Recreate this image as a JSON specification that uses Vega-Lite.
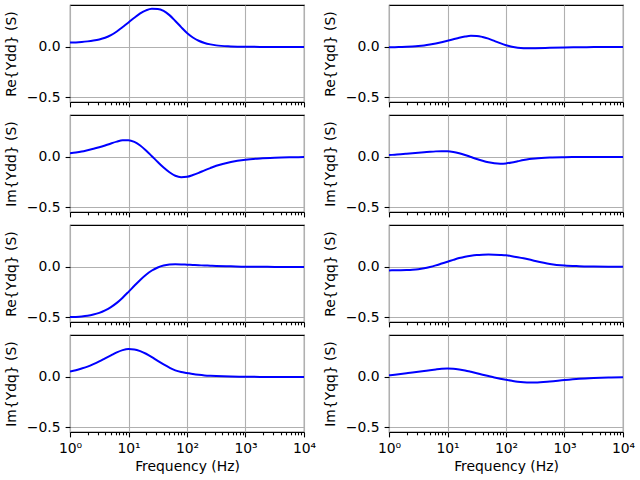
{
  "$schema": "https://vega.github.io/schema/vega-lite/v6.json",
  "padding": {"left": 3, "top": 4, "right": 0, "bottom": 0},
  "background": "white",
  "config": {
    "font": "DejaVu Sans",
    "view": {"stroke": "#000000", "strokeWidth": 1.1},
    "axis": {"domain": false, "gridColor": "#b0b0b0", "gridWidth": 1.1, "tickColor": "#000000", "tickWidth": 1.1, "tickSize": 4.9, "labelFontSize": 13.9, "labelColor": "#000000", "labelFont": "DejaVu Sans", "titleFont": "DejaVu Sans", "titleFontSize": 13.9, "titleFontWeight": "normal", "titleColor": "#000000", "labelPadding": 5, "labelFlush": false, "labelOverlap": false},
    "axisY": {"titlePadding": 8},
    "axisX": {"titlePadding": 4}
  },
  "data": {"values": [
    {"s":"ReYdd","f":1,"v":0.044},{"s":"ReYdd","f":1.259,"v":0.046},{"s":"ReYdd","f":1.585,"v":0.050},{"s":"ReYdd","f":1.995,"v":0.056},{"s":"ReYdd","f":2.512,"v":0.064},{"s":"ReYdd","f":3.162,"v":0.075},{"s":"ReYdd","f":3.981,"v":0.092},{"s":"ReYdd","f":5.012,"v":0.118},{"s":"ReYdd","f":6.31,"v":0.155},{"s":"ReYdd","f":7.943,"v":0.200},{"s":"ReYdd","f":10,"v":0.245},{"s":"ReYdd","f":12.59,"v":0.292},{"s":"ReYdd","f":15.85,"v":0.335},{"s":"ReYdd","f":19.95,"v":0.366},{"s":"ReYdd","f":25.12,"v":0.382},{"s":"ReYdd","f":31.62,"v":0.380},{"s":"ReYdd","f":39.81,"v":0.360},{"s":"ReYdd","f":50.12,"v":0.318},{"s":"ReYdd","f":63.1,"v":0.260},{"s":"ReYdd","f":79.43,"v":0.198},{"s":"ReYdd","f":100,"v":0.140},{"s":"ReYdd","f":125.9,"v":0.095},{"s":"ReYdd","f":158.5,"v":0.062},{"s":"ReYdd","f":199.5,"v":0.040},{"s":"ReYdd","f":251.2,"v":0.026},{"s":"ReYdd","f":316.2,"v":0.016},{"s":"ReYdd","f":562.3,"v":0.006},{"s":"ReYdd","f":1000,"v":0.002},{"s":"ReYdd","f":1778,"v":0.001},{"s":"ReYdd","f":3162,"v":0.0},{"s":"ReYdd","f":5623,"v":0.0},{"s":"ReYdd","f":10000,"v":0.0},
    {"s":"ImYdd","f":1,"v":0.037},{"s":"ImYdd","f":1.259,"v":0.045},{"s":"ImYdd","f":1.585,"v":0.055},{"s":"ImYdd","f":1.995,"v":0.068},{"s":"ImYdd","f":2.512,"v":0.082},{"s":"ImYdd","f":3.162,"v":0.097},{"s":"ImYdd","f":3.981,"v":0.115},{"s":"ImYdd","f":5.012,"v":0.135},{"s":"ImYdd","f":6.31,"v":0.153},{"s":"ImYdd","f":7.943,"v":0.166},{"s":"ImYdd","f":10,"v":0.167},{"s":"ImYdd","f":12.59,"v":0.150},{"s":"ImYdd","f":15.85,"v":0.115},{"s":"ImYdd","f":19.95,"v":0.065},{"s":"ImYdd","f":25.12,"v":0.008},{"s":"ImYdd","f":31.62,"v":-0.050},{"s":"ImYdd","f":39.81,"v":-0.105},{"s":"ImYdd","f":50.12,"v":-0.152},{"s":"ImYdd","f":63.1,"v":-0.187},{"s":"ImYdd","f":79.43,"v":-0.201},{"s":"ImYdd","f":100,"v":-0.197},{"s":"ImYdd","f":125.9,"v":-0.180},{"s":"ImYdd","f":158.5,"v":-0.158},{"s":"ImYdd","f":199.5,"v":-0.133},{"s":"ImYdd","f":251.2,"v":-0.110},{"s":"ImYdd","f":316.2,"v":-0.088},{"s":"ImYdd","f":562.3,"v":-0.050},{"s":"ImYdd","f":1000,"v":-0.027},{"s":"ImYdd","f":1778,"v":-0.014},{"s":"ImYdd","f":3162,"v":-0.007},{"s":"ImYdd","f":5623,"v":-0.003},{"s":"ImYdd","f":10000,"v":-0.001},
    {"s":"ReYdq","f":1,"v":-0.500},{"s":"ReYdq","f":1.259,"v":-0.498},{"s":"ReYdq","f":1.585,"v":-0.494},{"s":"ReYdq","f":1.995,"v":-0.487},{"s":"ReYdq","f":2.512,"v":-0.475},{"s":"ReYdq","f":3.162,"v":-0.458},{"s":"ReYdq","f":3.981,"v":-0.433},{"s":"ReYdq","f":5.012,"v":-0.400},{"s":"ReYdq","f":6.31,"v":-0.358},{"s":"ReYdq","f":7.943,"v":-0.306},{"s":"ReYdq","f":10,"v":-0.248},{"s":"ReYdq","f":12.59,"v":-0.188},{"s":"ReYdq","f":15.85,"v":-0.130},{"s":"ReYdq","f":19.95,"v":-0.078},{"s":"ReYdq","f":25.12,"v":-0.035},{"s":"ReYdq","f":31.62,"v":-0.005},{"s":"ReYdq","f":39.81,"v":0.014},{"s":"ReYdq","f":50.12,"v":0.024},{"s":"ReYdq","f":63.1,"v":0.027},{"s":"ReYdq","f":79.43,"v":0.026},{"s":"ReYdq","f":100,"v":0.023},{"s":"ReYdq","f":125.9,"v":0.020},{"s":"ReYdq","f":158.5,"v":0.017},{"s":"ReYdq","f":199.5,"v":0.015},{"s":"ReYdq","f":251.2,"v":0.013},{"s":"ReYdq","f":316.2,"v":0.011},{"s":"ReYdq","f":562.3,"v":0.007},{"s":"ReYdq","f":1000,"v":0.003},{"s":"ReYdq","f":1778,"v":0.002},{"s":"ReYdq","f":3162,"v":0.001},{"s":"ReYdq","f":5623,"v":0.0},{"s":"ReYdq","f":10000,"v":0.0},
    {"s":"ImYdq","f":1,"v":0.054},{"s":"ImYdq","f":1.259,"v":0.068},{"s":"ImYdq","f":1.585,"v":0.085},{"s":"ImYdq","f":1.995,"v":0.104},{"s":"ImYdq","f":2.512,"v":0.128},{"s":"ImYdq","f":3.162,"v":0.155},{"s":"ImYdq","f":3.981,"v":0.185},{"s":"ImYdq","f":5.012,"v":0.215},{"s":"ImYdq","f":6.31,"v":0.245},{"s":"ImYdq","f":7.943,"v":0.268},{"s":"ImYdq","f":10,"v":0.279},{"s":"ImYdq","f":12.59,"v":0.275},{"s":"ImYdq","f":15.85,"v":0.258},{"s":"ImYdq","f":19.95,"v":0.232},{"s":"ImYdq","f":25.12,"v":0.198},{"s":"ImYdq","f":31.62,"v":0.160},{"s":"ImYdq","f":39.81,"v":0.125},{"s":"ImYdq","f":50.12,"v":0.093},{"s":"ImYdq","f":63.1,"v":0.066},{"s":"ImYdq","f":79.43,"v":0.050},{"s":"ImYdq","f":100,"v":0.040},{"s":"ImYdq","f":125.9,"v":0.030},{"s":"ImYdq","f":158.5,"v":0.022},{"s":"ImYdq","f":199.5,"v":0.016},{"s":"ImYdq","f":251.2,"v":0.012},{"s":"ImYdq","f":316.2,"v":0.009},{"s":"ImYdq","f":562.3,"v":0.004},{"s":"ImYdq","f":1000,"v":0.002},{"s":"ImYdq","f":1778,"v":0.001},{"s":"ImYdq","f":3162,"v":0.0},{"s":"ImYdq","f":5623,"v":0.0},{"s":"ImYdq","f":10000,"v":0.0},
    {"s":"ReYqd","f":1,"v":-0.003},{"s":"ReYqd","f":1.259,"v":-0.002},{"s":"ReYqd","f":1.585,"v":0.0},{"s":"ReYqd","f":1.995,"v":0.002},{"s":"ReYqd","f":2.512,"v":0.005},{"s":"ReYqd","f":3.162,"v":0.009},{"s":"ReYqd","f":3.981,"v":0.015},{"s":"ReYqd","f":5.012,"v":0.024},{"s":"ReYqd","f":6.31,"v":0.035},{"s":"ReYqd","f":7.943,"v":0.048},{"s":"ReYqd","f":10,"v":0.062},{"s":"ReYqd","f":12.59,"v":0.077},{"s":"ReYqd","f":15.85,"v":0.092},{"s":"ReYqd","f":19.95,"v":0.104},{"s":"ReYqd","f":25.12,"v":0.111},{"s":"ReYqd","f":31.62,"v":0.110},{"s":"ReYqd","f":39.81,"v":0.100},{"s":"ReYqd","f":50.12,"v":0.083},{"s":"ReYqd","f":63.1,"v":0.061},{"s":"ReYqd","f":79.43,"v":0.038},{"s":"ReYqd","f":100,"v":0.018},{"s":"ReYqd","f":125.9,"v":0.003},{"s":"ReYqd","f":158.5,"v":-0.007},{"s":"ReYqd","f":199.5,"v":-0.012},{"s":"ReYqd","f":251.2,"v":-0.013},{"s":"ReYqd","f":316.2,"v":-0.012},{"s":"ReYqd","f":562.3,"v":-0.008},{"s":"ReYqd","f":1000,"v":-0.004},{"s":"ReYqd","f":1778,"v":-0.002},{"s":"ReYqd","f":3162,"v":-0.001},{"s":"ReYqd","f":5623,"v":0.0},{"s":"ReYqd","f":10000,"v":0.0},
    {"s":"ImYqd","f":1,"v":0.019},{"s":"ImYqd","f":1.259,"v":0.023},{"s":"ImYqd","f":1.585,"v":0.027},{"s":"ImYqd","f":1.995,"v":0.032},{"s":"ImYqd","f":2.512,"v":0.037},{"s":"ImYqd","f":3.162,"v":0.042},{"s":"ImYqd","f":3.981,"v":0.047},{"s":"ImYqd","f":5.012,"v":0.052},{"s":"ImYqd","f":6.31,"v":0.056},{"s":"ImYqd","f":7.943,"v":0.058},{"s":"ImYqd","f":10,"v":0.057},{"s":"ImYqd","f":12.59,"v":0.050},{"s":"ImYqd","f":15.85,"v":0.037},{"s":"ImYqd","f":19.95,"v":0.020},{"s":"ImYqd","f":25.12,"v":0.0},{"s":"ImYqd","f":31.62,"v":-0.020},{"s":"ImYqd","f":39.81,"v":-0.038},{"s":"ImYqd","f":50.12,"v":-0.053},{"s":"ImYqd","f":63.1,"v":-0.063},{"s":"ImYqd","f":79.43,"v":-0.067},{"s":"ImYqd","f":100,"v":-0.064},{"s":"ImYqd","f":125.9,"v":-0.055},{"s":"ImYqd","f":158.5,"v":-0.043},{"s":"ImYqd","f":199.5,"v":-0.031},{"s":"ImYqd","f":251.2,"v":-0.021},{"s":"ImYqd","f":316.2,"v":-0.014},{"s":"ImYqd","f":562.3,"v":-0.005},{"s":"ImYqd","f":1000,"v":-0.002},{"s":"ImYqd","f":1778,"v":-0.001},{"s":"ImYqd","f":3162,"v":0.0},{"s":"ImYqd","f":5623,"v":0.0},{"s":"ImYqd","f":10000,"v":0.0},
    {"s":"ReYqq","f":1,"v":-0.034},{"s":"ReYqq","f":1.259,"v":-0.033},{"s":"ReYqq","f":1.585,"v":-0.032},{"s":"ReYqq","f":1.995,"v":-0.030},{"s":"ReYqq","f":2.512,"v":-0.027},{"s":"ReYqq","f":3.162,"v":-0.022},{"s":"ReYqq","f":3.981,"v":-0.013},{"s":"ReYqq","f":5.012,"v":0.0},{"s":"ReYqq","f":6.31,"v":0.016},{"s":"ReYqq","f":7.943,"v":0.034},{"s":"ReYqq","f":10,"v":0.052},{"s":"ReYqq","f":12.59,"v":0.071},{"s":"ReYqq","f":15.85,"v":0.089},{"s":"ReYqq","f":19.95,"v":0.103},{"s":"ReYqq","f":25.12,"v":0.113},{"s":"ReYqq","f":31.62,"v":0.120},{"s":"ReYqq","f":39.81,"v":0.123},{"s":"ReYqq","f":50.12,"v":0.124},{"s":"ReYqq","f":63.1,"v":0.123},{"s":"ReYqq","f":79.43,"v":0.120},{"s":"ReYqq","f":100,"v":0.116},{"s":"ReYqq","f":125.9,"v":0.108},{"s":"ReYqq","f":158.5,"v":0.098},{"s":"ReYqq","f":199.5,"v":0.087},{"s":"ReYqq","f":251.2,"v":0.074},{"s":"ReYqq","f":316.2,"v":0.060},{"s":"ReYqq","f":562.3,"v":0.030},{"s":"ReYqq","f":1000,"v":0.014},{"s":"ReYqq","f":1778,"v":0.008},{"s":"ReYqq","f":3162,"v":0.005},{"s":"ReYqq","f":5623,"v":0.003},{"s":"ReYqq","f":10000,"v":0.002},
    {"s":"ImYqq","f":1,"v":0.017},{"s":"ImYqq","f":1.259,"v":0.023},{"s":"ImYqq","f":1.585,"v":0.030},{"s":"ImYqq","f":1.995,"v":0.037},{"s":"ImYqq","f":2.512,"v":0.044},{"s":"ImYqq","f":3.162,"v":0.052},{"s":"ImYqq","f":3.981,"v":0.060},{"s":"ImYqq","f":5.012,"v":0.068},{"s":"ImYqq","f":6.31,"v":0.075},{"s":"ImYqq","f":7.943,"v":0.081},{"s":"ImYqq","f":10,"v":0.084},{"s":"ImYqq","f":12.59,"v":0.082},{"s":"ImYqq","f":15.85,"v":0.075},{"s":"ImYqq","f":19.95,"v":0.065},{"s":"ImYqq","f":25.12,"v":0.052},{"s":"ImYqq","f":31.62,"v":0.038},{"s":"ImYqq","f":39.81,"v":0.023},{"s":"ImYqq","f":50.12,"v":0.009},{"s":"ImYqq","f":63.1,"v":-0.005},{"s":"ImYqq","f":79.43,"v":-0.017},{"s":"ImYqq","f":100,"v":-0.028},{"s":"ImYqq","f":125.9,"v":-0.038},{"s":"ImYqq","f":158.5,"v":-0.047},{"s":"ImYqq","f":199.5,"v":-0.053},{"s":"ImYqq","f":251.2,"v":-0.056},{"s":"ImYqq","f":316.2,"v":-0.056},{"s":"ImYqq","f":562.3,"v":-0.046},{"s":"ImYqq","f":1000,"v":-0.030},{"s":"ImYqq","f":1778,"v":-0.017},{"s":"ImYqq","f":3162,"v":-0.009},{"s":"ImYqq","f":5623,"v":-0.004},{"s":"ImYqq","f":10000,"v":-0.002}
  ]},
  "columns": 2,
  "spacing": {"row": 13, "column": 85},
  "bounds": "flush",
  "concat": [
    {"width": 234, "height": 97, "transform": [{"filter": "datum.s === 'ReYdd'"}],
     "mark": {"type": "line", "color": "#0000ff", "strokeWidth": 2, "interpolate": "monotone", "clip": true},
     "encoding": {
       "x": {"field": "f", "type": "quantitative", "scale": {"type": "log", "domain": [1, 10000], "nice": false},
             "axis": {"values": [1,2,3,4,5,6,7,8,9,10,20,30,40,50,60,70,80,90,100,200,300,400,500,600,700,800,900,1000,2000,3000,4000,5000,6000,7000,8000,9000,10000], "labels": false, "title": null,
                      "tickSize": {"condition": {"test": "abs(log(datum.value)/LN10 - round(log(datum.value)/LN10)) < 0.000001", "value": 4.9}, "value": 2.8},
                      "gridOpacity": {"condition": {"test": "abs(log(datum.value)/LN10 - round(log(datum.value)/LN10)) < 0.000001", "value": 1}, "value": 0}}},
       "y": {"field": "v", "type": "quantitative", "scale": {"domain": [-0.549, 0.419], "nice": false, "zero": false}, "axis": {"values": [-0.5, 0], "format": ".1f", "title": "Re{Ydd} (S)"}}}},
    {"width": 234, "height": 97, "transform": [{"filter": "datum.s === 'ReYqd'"}],
     "mark": {"type": "line", "color": "#0000ff", "strokeWidth": 2, "interpolate": "monotone", "clip": true},
     "encoding": {
       "x": {"field": "f", "type": "quantitative", "scale": {"type": "log", "domain": [1, 10000], "nice": false},
             "axis": {"values": [1,2,3,4,5,6,7,8,9,10,20,30,40,50,60,70,80,90,100,200,300,400,500,600,700,800,900,1000,2000,3000,4000,5000,6000,7000,8000,9000,10000], "labels": false, "title": null,
                      "tickSize": {"condition": {"test": "abs(log(datum.value)/LN10 - round(log(datum.value)/LN10)) < 0.000001", "value": 4.9}, "value": 2.8},
                      "gridOpacity": {"condition": {"test": "abs(log(datum.value)/LN10 - round(log(datum.value)/LN10)) < 0.000001", "value": 1}, "value": 0}}},
       "y": {"field": "v", "type": "quantitative", "scale": {"domain": [-0.549, 0.419], "nice": false, "zero": false}, "axis": {"values": [-0.5, 0], "format": ".1f", "title": "Re{Yqd} (S)"}}}},
    {"width": 234, "height": 97, "transform": [{"filter": "datum.s === 'ImYdd'"}],
     "mark": {"type": "line", "color": "#0000ff", "strokeWidth": 2, "interpolate": "monotone", "clip": true},
     "encoding": {
       "x": {"field": "f", "type": "quantitative", "scale": {"type": "log", "domain": [1, 10000], "nice": false},
             "axis": {"values": [1,2,3,4,5,6,7,8,9,10,20,30,40,50,60,70,80,90,100,200,300,400,500,600,700,800,900,1000,2000,3000,4000,5000,6000,7000,8000,9000,10000], "labels": false, "title": null,
                      "tickSize": {"condition": {"test": "abs(log(datum.value)/LN10 - round(log(datum.value)/LN10)) < 0.000001", "value": 4.9}, "value": 2.8},
                      "gridOpacity": {"condition": {"test": "abs(log(datum.value)/LN10 - round(log(datum.value)/LN10)) < 0.000001", "value": 1}, "value": 0}}},
       "y": {"field": "v", "type": "quantitative", "scale": {"domain": [-0.549, 0.419], "nice": false, "zero": false}, "axis": {"values": [-0.5, 0], "format": ".1f", "title": "Im{Ydd} (S)"}}}},
    {"width": 234, "height": 97, "transform": [{"filter": "datum.s === 'ImYqd'"}],
     "mark": {"type": "line", "color": "#0000ff", "strokeWidth": 2, "interpolate": "monotone", "clip": true},
     "encoding": {
       "x": {"field": "f", "type": "quantitative", "scale": {"type": "log", "domain": [1, 10000], "nice": false},
             "axis": {"values": [1,2,3,4,5,6,7,8,9,10,20,30,40,50,60,70,80,90,100,200,300,400,500,600,700,800,900,1000,2000,3000,4000,5000,6000,7000,8000,9000,10000], "labels": false, "title": null,
                      "tickSize": {"condition": {"test": "abs(log(datum.value)/LN10 - round(log(datum.value)/LN10)) < 0.000001", "value": 4.9}, "value": 2.8},
                      "gridOpacity": {"condition": {"test": "abs(log(datum.value)/LN10 - round(log(datum.value)/LN10)) < 0.000001", "value": 1}, "value": 0}}},
       "y": {"field": "v", "type": "quantitative", "scale": {"domain": [-0.549, 0.419], "nice": false, "zero": false}, "axis": {"values": [-0.5, 0], "format": ".1f", "title": "Im{Yqd} (S)"}}}},
    {"width": 234, "height": 97, "transform": [{"filter": "datum.s === 'ReYdq'"}],
     "mark": {"type": "line", "color": "#0000ff", "strokeWidth": 2, "interpolate": "monotone", "clip": true},
     "encoding": {
       "x": {"field": "f", "type": "quantitative", "scale": {"type": "log", "domain": [1, 10000], "nice": false},
             "axis": {"values": [1,2,3,4,5,6,7,8,9,10,20,30,40,50,60,70,80,90,100,200,300,400,500,600,700,800,900,1000,2000,3000,4000,5000,6000,7000,8000,9000,10000], "labels": false, "title": null,
                      "tickSize": {"condition": {"test": "abs(log(datum.value)/LN10 - round(log(datum.value)/LN10)) < 0.000001", "value": 4.9}, "value": 2.8},
                      "gridOpacity": {"condition": {"test": "abs(log(datum.value)/LN10 - round(log(datum.value)/LN10)) < 0.000001", "value": 1}, "value": 0}}},
       "y": {"field": "v", "type": "quantitative", "scale": {"domain": [-0.549, 0.419], "nice": false, "zero": false}, "axis": {"values": [-0.5, 0], "format": ".1f", "title": "Re{Ydq} (S)"}}}},
    {"width": 234, "height": 97, "transform": [{"filter": "datum.s === 'ReYqq'"}],
     "mark": {"type": "line", "color": "#0000ff", "strokeWidth": 2, "interpolate": "monotone", "clip": true},
     "encoding": {
       "x": {"field": "f", "type": "quantitative", "scale": {"type": "log", "domain": [1, 10000], "nice": false},
             "axis": {"values": [1,2,3,4,5,6,7,8,9,10,20,30,40,50,60,70,80,90,100,200,300,400,500,600,700,800,900,1000,2000,3000,4000,5000,6000,7000,8000,9000,10000], "labels": false, "title": null,
                      "tickSize": {"condition": {"test": "abs(log(datum.value)/LN10 - round(log(datum.value)/LN10)) < 0.000001", "value": 4.9}, "value": 2.8},
                      "gridOpacity": {"condition": {"test": "abs(log(datum.value)/LN10 - round(log(datum.value)/LN10)) < 0.000001", "value": 1}, "value": 0}}},
       "y": {"field": "v", "type": "quantitative", "scale": {"domain": [-0.549, 0.419], "nice": false, "zero": false}, "axis": {"values": [-0.5, 0], "format": ".1f", "title": "Re{Yqq} (S)"}}}},
    {"width": 234, "height": 97, "transform": [{"filter": "datum.s === 'ImYdq'"}],
     "mark": {"type": "line", "color": "#0000ff", "strokeWidth": 2, "interpolate": "monotone", "clip": true},
     "encoding": {
       "x": {"field": "f", "type": "quantitative", "scale": {"type": "log", "domain": [1, 10000], "nice": false},
             "axis": {"values": [1,2,3,4,5,6,7,8,9,10,20,30,40,50,60,70,80,90,100,200,300,400,500,600,700,800,900,1000,2000,3000,4000,5000,6000,7000,8000,9000,10000], "title": "Frequency (Hz)",
                      "labelExpr": "abs(log(datum.value)/LN10 - round(log(datum.value)/LN10)) < 0.000001 ? '10' + ['⁰','¹','²','³','⁴'][round(log(datum.value)/LN10)] : ''",
                      "tickSize": {"condition": {"test": "abs(log(datum.value)/LN10 - round(log(datum.value)/LN10)) < 0.000001", "value": 4.9}, "value": 2.8},
                      "gridOpacity": {"condition": {"test": "abs(log(datum.value)/LN10 - round(log(datum.value)/LN10)) < 0.000001", "value": 1}, "value": 0}}},
       "y": {"field": "v", "type": "quantitative", "scale": {"domain": [-0.549, 0.419], "nice": false, "zero": false}, "axis": {"values": [-0.5, 0], "format": ".1f", "title": "Im{Ydq} (S)"}}}},
    {"width": 234, "height": 97, "transform": [{"filter": "datum.s === 'ImYqq'"}],
     "mark": {"type": "line", "color": "#0000ff", "strokeWidth": 2, "interpolate": "monotone", "clip": true},
     "encoding": {
       "x": {"field": "f", "type": "quantitative", "scale": {"type": "log", "domain": [1, 10000], "nice": false},
             "axis": {"values": [1,2,3,4,5,6,7,8,9,10,20,30,40,50,60,70,80,90,100,200,300,400,500,600,700,800,900,1000,2000,3000,4000,5000,6000,7000,8000,9000,10000], "title": "Frequency (Hz)",
                      "labelExpr": "abs(log(datum.value)/LN10 - round(log(datum.value)/LN10)) < 0.000001 ? '10' + ['⁰','¹','²','³','⁴'][round(log(datum.value)/LN10)] : ''",
                      "tickSize": {"condition": {"test": "abs(log(datum.value)/LN10 - round(log(datum.value)/LN10)) < 0.000001", "value": 4.9}, "value": 2.8},
                      "gridOpacity": {"condition": {"test": "abs(log(datum.value)/LN10 - round(log(datum.value)/LN10)) < 0.000001", "value": 1}, "value": 0}}},
       "y": {"field": "v", "type": "quantitative", "scale": {"domain": [-0.549, 0.419], "nice": false, "zero": false}, "axis": {"values": [-0.5, 0], "format": ".1f", "title": "Im{Yqq} (S)"}}}}
  ]
}
